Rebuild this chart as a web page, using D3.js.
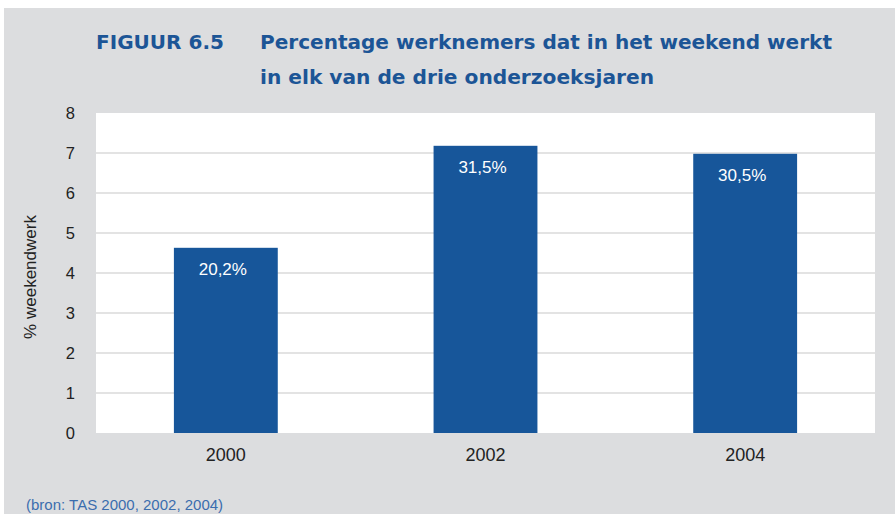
<!DOCTYPE html>
<html>
<head>
<meta charset="utf-8">
<script src="https://cdn.jsdelivr.net/npm/d3@7"></script>
<style>
  html, body { margin: 0; padding: 0; background: #fff; }
  svg { display: block; font-family: Arial, "Liberation Sans", sans-serif; }
</style>
</head>
<body>
<div id="graph"></div>
<script>
var years = ['2000', '2002', '2004'];
var weekendValues = [4.63, 7.18, 6.98];
var barLabels = ['20,2%', '31,5%', '30,5%'];
var yTicks = [0, 1, 2, 3, 4, 5, 6, 7, 8];
var titleLines = ['Percentage werknemers dat in het weekend werkt', 'in elk van de drie onderzoeksjaren'];

(function() {
  'use strict';
  var
    width_total = 895,
    height_total = 514,
    plot = {left: 96, right: 875, top: 113, bottom: 433},
    blue = '#17569a',
    titleFont = '"DejaVu Sans", Verdana, sans-serif';

  var svg = d3.select('#graph').append('svg')
    .attr('width', width_total)
    .attr('height', height_total);

  // grey panel
  svg.append('rect')
    .attr('x', 4).attr('y', 8)
    .attr('width', width_total - 4).attr('height', height_total - 8)
    .style('fill', '#dcdddf');

  // title
  svg.append('text')
    .attr('x', 96).attr('y', 49)
    .attr('textLength', 128).attr('lengthAdjust', 'spacingAndGlyphs')
    .style('font-family', titleFont)
    .style('font-weight', 'bold').style('font-size', '19.5px')
    .style('fill', '#1c5596')
    .text('FIGUUR 6.5');

  var titleWidths = [572, 394];
  titleLines.forEach(function(line, i) {
    svg.append('text')
      .attr('x', 260).attr('y', 49 + i * 35)
      .attr('textLength', titleWidths[i]).attr('lengthAdjust', 'spacingAndGlyphs')
      .style('font-family', titleFont)
      .style('font-weight', 'bold').style('font-size', '19.5px')
      .style('fill', '#1c5596')
      .text(line);
  });

  var xScale = d3.scaleBand().domain(years).range([plot.left, plot.right]).paddingInner(0.6).paddingOuter(0.3);
  var yScale = d3.scaleLinear().domain([0, 8]).range([plot.bottom, plot.top]);

  svg.append('rect')
    .attr('x', plot.left).attr('y', plot.top)
    .attr('width', plot.right - plot.left).attr('height', plot.bottom - plot.top)
    .style('fill', '#fff');

  // gridlines
  svg.append('g')
    .selectAll('line')
    .data(yTicks.filter(function(d) {return d > 0 && d < 8;}))
    .enter().append('line')
    .attr('x1', plot.left).attr('x2', plot.right)
    .attr('y1', function(d) {return yScale(d);})
    .attr('y2', function(d) {return yScale(d);})
    .style('stroke', '#dadada').style('stroke-width', 1.5);

  // y axis
  var yAxis = svg.append('g')
    .attr('transform', 'translate(' + (plot.left - 8) + ',0)')
    .call(d3.axisLeft(yScale).tickValues(yTicks).tickSize(0).tickPadding(13));
  yAxis.select('.domain').remove();
  yAxis.selectAll('text')
    .style('font-size', '16.5px').style('fill', '#222')
    .attr('font-family', null);

  // x axis
  var xAxis = svg.append('g')
    .attr('transform', 'translate(0,' + plot.bottom + ')')
    .call(d3.axisBottom(xScale).tickSize(0).tickPadding(15));
  xAxis.select('.domain').remove();
  xAxis.selectAll('text')
    .style('font-size', '18px').style('fill', '#222')
    .attr('font-family', null);

  svg.append('text')
    .attr('transform', 'translate(36,277) rotate(-90)')
    .attr('text-anchor', 'middle')
    .style('font-size', '17px').style('fill', '#222')
    .text('% weekendwerk');

  // bars
  var bars = svg.append('g')
    .selectAll('g')
    .data(years)
    .enter().append('g');

  bars.append('rect')
    .attr('x', function(d) {return xScale(d);})
    .attr('y', function(d, i) {return yScale(weekendValues[i]);})
    .attr('width', xScale.bandwidth())
    .attr('height', function(d, i) {return plot.bottom - yScale(weekendValues[i]);})
    .style('fill', blue);

  bars.append('text')
    .attr('x', function(d) {return xScale(d) + xScale.bandwidth() / 2 - 3;})
    .attr('y', function(d, i) {return yScale(weekendValues[i]) + 27;})
    .attr('text-anchor', 'middle')
    .style('font-size', '17px').style('fill', '#fff')
    .text(function(d, i) {return barLabels[i];});

  svg.append('text')
    .attr('x', 26).attr('y', 510)
    .style('font-size', '15px').style('fill', '#3b6dae')
    .text('(bron: TAS 2000, 2002, 2004)');
})();
</script>
</body>
</html>
